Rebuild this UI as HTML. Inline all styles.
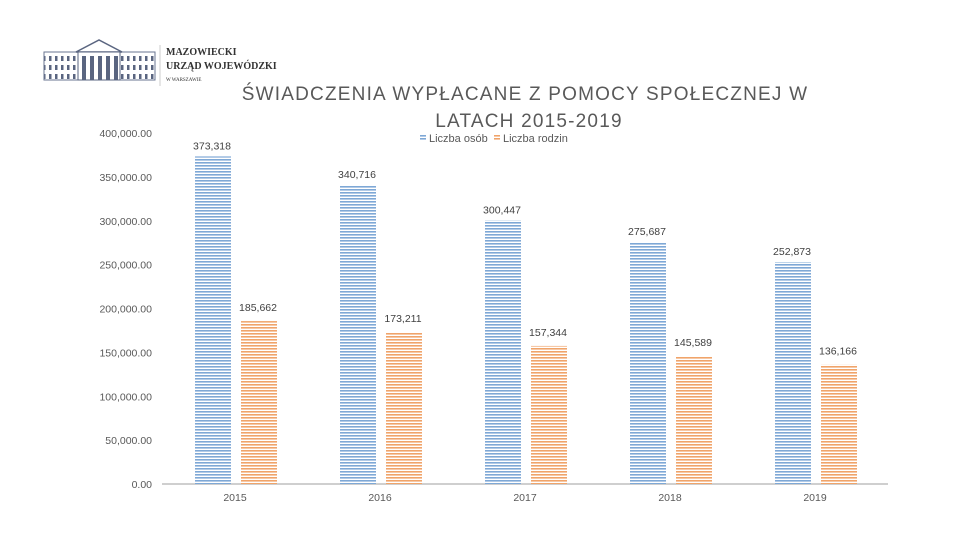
<!DOCTYPE html>
<html><head><meta charset="utf-8"><style>
body{margin:0;width:960px;height:540px;background:#fff;overflow:hidden;font-family:"Liberation Sans",sans-serif;}
</style></head><body>
<svg width="960" height="540" xmlns="http://www.w3.org/2000/svg">
<defs>
<pattern id="pb" width="4" height="3" patternUnits="userSpaceOnUse"><rect width="4" height="3" fill="#fff"/><rect width="4" height="1.6" fill="#7ea8d6"/></pattern>
<pattern id="po" width="4" height="3" patternUnits="userSpaceOnUse"><rect width="4" height="3" fill="#fff"/><rect width="4" height="1.6" fill="#f0a46a"/></pattern>
<pattern id="win" width="6" height="9" patternUnits="userSpaceOnUse"><rect width="6" height="9" fill="#fff"/><rect x="1" y="2" width="2.5" height="5" fill="#5a6580"/></pattern>
</defs>
<g>
<rect x="44" y="52" width="111" height="28" fill="url(#win)" stroke="#6a7590" stroke-width="1"/>
<polygon points="76,52 99,40 122,52" fill="#fff" stroke="#5a6580" stroke-width="1.5"/>
<rect x="78" y="52" width="42" height="28" fill="#fff" stroke="#5a6580"/>
<rect x="82" y="56" width="4" height="24" fill="#5a6580"/><rect x="90" y="56" width="4" height="24" fill="#5a6580"/><rect x="98" y="56" width="4" height="24" fill="#5a6580"/><rect x="106" y="56" width="4" height="24" fill="#5a6580"/><rect x="114" y="56" width="4" height="24" fill="#5a6580"/>
<line x1="160" y1="45" x2="160" y2="86" stroke="#ccc"/>
<text x="166" y="55" font-size="10" font-weight="bold" fill="#333" font-family="Liberation Serif,serif">MAZOWIECKI</text>
<text x="166" y="69" font-size="10" font-weight="bold" fill="#333" font-family="Liberation Serif,serif">URZĄD WOJEWÓDZKI</text>
<text x="166" y="81" font-size="5" fill="#333" font-family="Liberation Serif,serif">W WARSZAWIE</text>
</g>
<text x="525" y="100" text-anchor="middle" font-size="19" letter-spacing="1.2" fill="#595959">ŚWIADCZENIA WYPŁACANE Z POMOCY SPOŁECZNEJ W</text>
<text x="529" y="127" text-anchor="middle" font-size="19" letter-spacing="1.2" fill="#595959">LATACH 2015-2019</text>
<g font-size="11" fill="#595959">
<rect x="420" y="134" width="6" height="7" fill="url(#pb)"/>
<text x="429" y="142">Liczba osób</text>
<rect x="494" y="134" width="6" height="7" fill="url(#po)"/>
<text x="503" y="142">Liczba rodzin</text>
</g>
<g id="yaxis" font-size="10.5" fill="#595959" text-anchor="end"></g>
<line x1="162" y1="484" x2="888" y2="484" stroke="#bfbfbf" stroke-width="1.5"/>
<g id="bars"></g>
</svg>
<script>
const categories=["2015","2016","2017","2018","2019"];
const osob=[373318,340716,300447,275687,252873];
const rodzin=[185662,173211,157344,145589,136166];
const ticks=[0,50000,100000,150000,200000,250000,300000,350000,400000];
const NS="http://www.w3.org/2000/svg";
const y=v=>484-v*351/400000;
const cx=i=>235+i*145;
const fmt=v=>v.toLocaleString("en-US");
const ya=document.getElementById("yaxis"),bg=document.getElementById("bars");
ticks.forEach(t=>{const e=document.createElementNS(NS,"text");


e.setAttribute("x",152);e.setAttribute("y",y(t)+4);e.textContent=fmt(t)+".00";ya.appendChild(e);});
function bar(x,v,fill,name,off){
const r=document.createElementNS(NS,"rect");


r.setAttribute("x",x);r.setAttribute("y",y(v));r.setAttribute("width",36);r.setAttribute("height",484-y(v));r.setAttribute("fill",fill);bg.appendChild(r);
const t=document.createElementNS(NS,"text");


t.setAttribute("x",x+17);t.setAttribute("y",y(v)-off);t.setAttribute("text-anchor","middle");t.setAttribute("font-size","10.5");t.setAttribute("fill","#404040");t.textContent=fmt(v);bg.appendChild(t);}
categories.forEach((c,i)=>{
bar(cx(i)-40,osob[i],"url(#pb)","bar-osob-"+c,7);
bar(cx(i)+6,rodzin[i],"url(#po)","bar-rodzin-"+c,10);
const t=document.createElementNS(NS,"text");


t.setAttribute("x",cx(i));t.setAttribute("y",501);t.setAttribute("text-anchor","middle");t.setAttribute("font-size","10.5");t.setAttribute("fill","#595959");t.textContent=c;bg.appendChild(t);});
</script>
</body></html>
